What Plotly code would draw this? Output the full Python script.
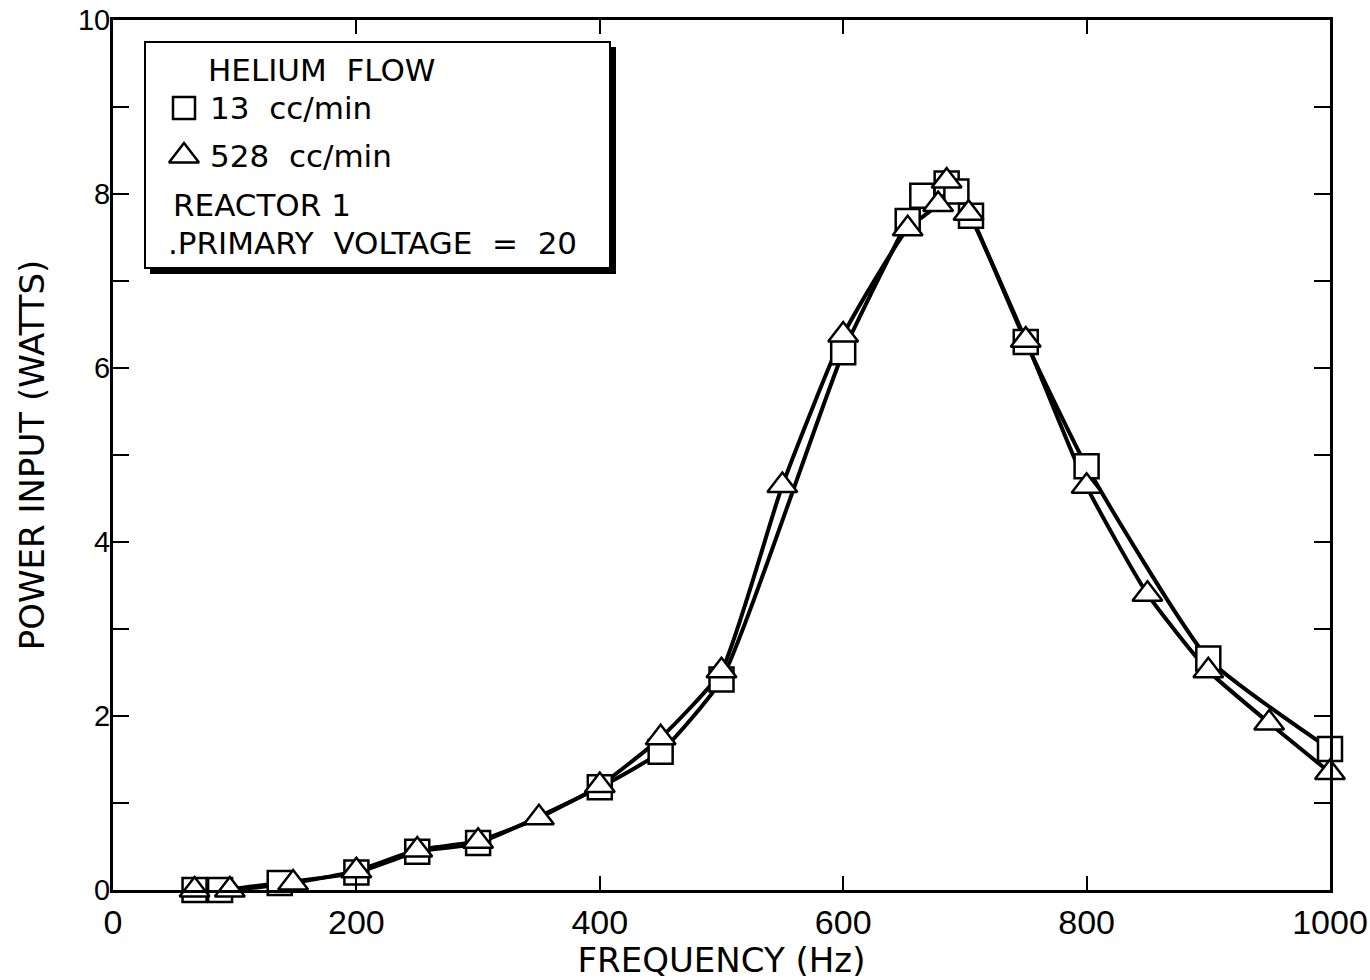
import plotly.graph_objects as go

# 13 cc/min (squares)
sq_freq = [67, 88, 137, 200, 250, 300, 400, 450, 500, 600, 653, 665, 685, 693, 705, 750, 800, 900, 1000]
sq_power = [0.0, 0.0, 0.08, 0.2, 0.44, 0.54, 1.18, 1.59, 2.42, 6.18, 7.69, 7.98, 8.12, 8.03, 7.75, 6.3, 4.87, 2.66, 1.62]

# 528 cc/min (triangles)
tr_freq = [67, 96, 148, 200, 250, 300, 350, 400, 450, 500, 550, 600, 653, 678, 685, 703, 750, 800, 850, 900, 950, 1000]
tr_power = [0.0, 0.0, 0.08, 0.22, 0.46, 0.56, 0.83, 1.2, 1.75, 2.52, 4.65, 6.38, 7.6, 7.88, 8.15, 7.78, 6.32, 4.64, 3.4, 2.52, 1.92, 1.35]

x_ticks = [0, 200, 400, 600, 800, 1000]
y_ticks = list(range(0, 11))
y_ticktext = [str(v) if v % 2 == 0 else "" for v in y_ticks]

NB = "\u00a0"
legend_title = "HELIUM" + NB + " FLOW"
legend_series = ["13" + NB + " cc/min", "528" + NB + " cc/min"]
legend_notes = ["REACTOR 1", ".PRIMARY" + NB + " VOLTAGE" + NB + " =" + NB + " 20"]

W, H = 1370, 980
L, R, T, B = 113, 40, 20, 90
PW, PH = W - L - R, H - T - B

def px(x):
    return (x - L) / PW

def py(y):
    return (H - B - y) / PH

tick_font = "Liberation Sans, Arial, sans-serif"
text_font = "DejaVu Sans, Verdana, sans-serif"

fig = go.Figure()
for fx, fy in [(sq_freq, sq_power), (tr_freq, tr_power)]:
    fig.add_trace(go.Scatter(x=fx, y=fy, mode="lines",
                             line=dict(color="black", width=4, shape="spline", smoothing=0.5),
                             showlegend=False, cliponaxis=False, hoverinfo="skip"))
sq_marker = dict(symbol="square", size=24, color="white", line=dict(color="black", width=2.5))
tr_marker = dict(symbol="triangle-up", size=26, color="white", line=dict(color="black", width=2.5))
fig.add_trace(go.Scatter(x=sq_freq, y=sq_power, mode="markers", name=legend_series[0],
                         marker=sq_marker, showlegend=False, cliponaxis=False))
fig.add_trace(go.Scatter(x=tr_freq, y=tr_power, mode="markers", name=legend_series[1],
                         marker=tr_marker, showlegend=False, cliponaxis=False))

fig.update_layout(
    width=W, height=H,
    margin=dict(l=L, r=R, t=T, b=B),
    paper_bgcolor="white", plot_bgcolor="rgba(0,0,0,0)",
    font=dict(family=tick_font, color="black"),
    xaxis=dict(range=[0, 1000], tickvals=x_ticks, ticks="inside", ticklen=14, tickwidth=2,
               tickcolor="black", showline=True, linecolor="black", linewidth=3,
               mirror="allticks", showgrid=False, zeroline=False, automargin=False,
               tickfont=dict(size=34, family=tick_font),
               title=dict(text="FREQUENCY (Hz)", font=dict(size=34, family=text_font), standoff=10)),
    yaxis=dict(range=[0, 10], tickvals=y_ticks, ticktext=y_ticktext, ticks="inside", ticklen=16,
               tickwidth=2, tickcolor="black", showline=True, linecolor="black", linewidth=3,
               mirror="allticks", showgrid=False, zeroline=False, automargin=False,
               ticklabelstandoff=-6,
               tickfont=dict(size=29, family=tick_font),
               title=dict(text="POWER INPUT (WATTS)", font=dict(size=34, family=text_font), standoff=24)),
    xaxis2=dict(range=[0, 1], overlaying="x", visible=False, fixedrange=True, automargin=False),
    yaxis2=dict(range=[0, 1], overlaying="y", visible=False, fixedrange=True, automargin=False),
)

# legend box with shadow
fig.add_shape(type="rect", xref="paper", yref="paper",
              x0=px(150), x1=px(616), y0=py(274), y1=py(47),
              fillcolor="black", line=dict(width=0), layer="below")
fig.add_shape(type="rect", xref="paper", yref="paper",
              x0=px(145), x1=px(610), y0=py(268), y1=py(42),
              fillcolor="white", line=dict(color="black", width=2), layer="below")

# legend marker symbols (on overlay axes spanning the plot area, 0..1)
fig.add_trace(go.Scatter(x=[px(184)], y=[py(108)], xaxis="x2", yaxis="y2", mode="markers",
                         marker=dict(symbol="square", size=22, color="white",
                                     line=dict(color="black", width=2.5)),
                         showlegend=False, hoverinfo="skip", cliponaxis=False))
fig.add_trace(go.Scatter(x=[px(184)], y=[py(156)], xaxis="x2", yaxis="y2", mode="markers",
                         marker=dict(symbol="triangle-up", size=26, color="white",
                                     line=dict(color="black", width=2.5)),
                         showlegend=False, hoverinfo="skip", cliponaxis=False))

legend_items = [(legend_title, 206, 70), (legend_series[0], 208, 108), (legend_series[1], 208, 156),
                (legend_notes[0], 171, 205), (legend_notes[1], 166, 243)]
for txt, lx, ly in legend_items:
    fig.add_annotation(text=txt, xref="paper", yref="paper", x=px(lx), y=py(ly),
                       xanchor="left", yanchor="middle", showarrow=False,
                       font=dict(size=31, family=text_font, color="black"))

fig.write_html("out.html")
